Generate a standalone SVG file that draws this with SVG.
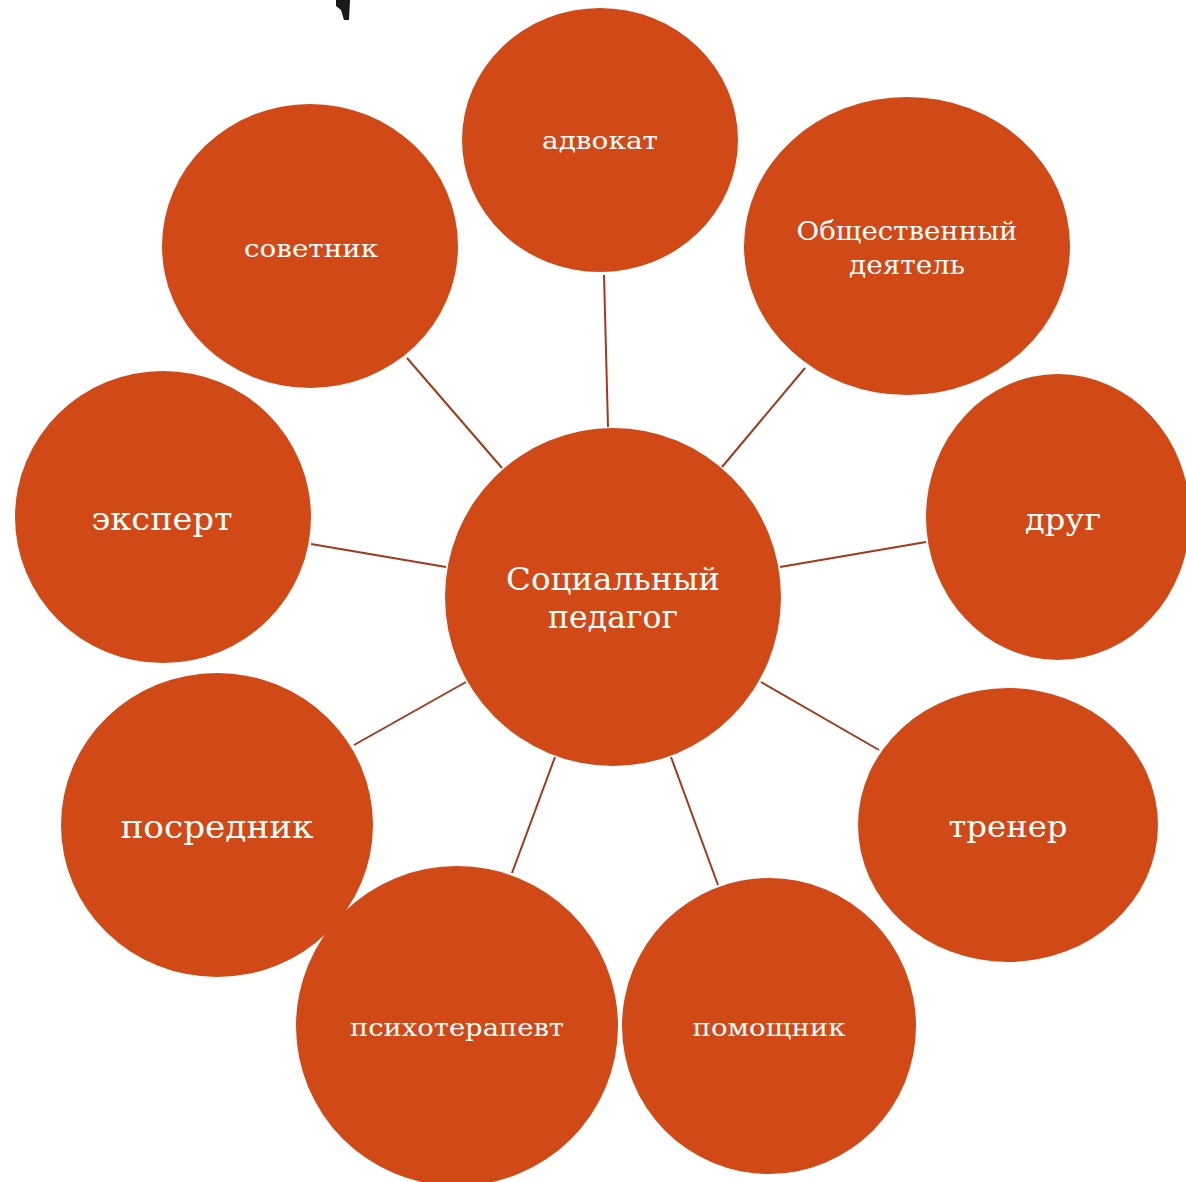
<svg xmlns="http://www.w3.org/2000/svg" width="1186" height="1182" viewBox="0 0 1186 1182">
<style>
.n{fill:#d14917;}
.t{fill:#ffffff;font-family:"DejaVu Serif","Liberation Serif",serif;text-anchor:middle;}
.c line{stroke:#a3391a;stroke-width:2;}
</style>
<rect width="1186" height="1182" fill="#ffffff"/>
<path d="M336 0 L350 0 L349 20 L344 20 L341 10 L336 6 Z" fill="#1a1a1a"/>
<g class="c">
<line x1="604" y1="275" x2="608" y2="427"/>
<line x1="805" y1="368" x2="722" y2="467"/>
<line x1="407" y1="358" x2="502" y2="468"/>
<line x1="926" y1="542" x2="780" y2="567"/>
<line x1="311" y1="544" x2="446" y2="567"/>
<line x1="761" y1="682" x2="879" y2="750"/>
<line x1="354" y1="745" x2="466" y2="682"/>
<line x1="671" y1="757" x2="718" y2="885"/>
<line x1="555" y1="757" x2="512" y2="873"/>
</g>
<g id="center"><ellipse class="n" cx="613" cy="597" rx="168" ry="169"/><text class="t" x="613" y="590" font-size="31" textLength="214" lengthAdjust="spacingAndGlyphs">Социальный</text><text class="t" x="613" y="628" font-size="31" textLength="130" lengthAdjust="spacingAndGlyphs">педагог</text></g>
<g id="advokat"><ellipse class="n" cx="600" cy="140" rx="138" ry="132"/><text class="t" x="600" y="149" font-size="24" textLength="116" lengthAdjust="spacingAndGlyphs">адвокат</text></g>
<g id="obshch"><ellipse class="n" cx="907" cy="246" rx="163" ry="149"/><text class="t" x="907" y="240" font-size="26" textLength="221" lengthAdjust="spacingAndGlyphs">Общественный</text><text class="t" x="907" y="274" font-size="26" textLength="116" lengthAdjust="spacingAndGlyphs">деятель</text></g>
<g id="sovetnik"><ellipse class="n" cx="310" cy="246" rx="148" ry="142"/><text class="t" x="311" y="257" font-size="24" textLength="134" lengthAdjust="spacingAndGlyphs">советник</text></g>
<g id="ekspert"><ellipse class="n" cx="163" cy="517" rx="148" ry="146"/><text class="t" x="162" y="530" font-size="31" textLength="141" lengthAdjust="spacingAndGlyphs">эксперт</text></g>
<g id="drug"><ellipse class="n" cx="1058" cy="517" rx="132" ry="143"/><text class="t" x="1063" y="530" font-size="30" textLength="76" lengthAdjust="spacingAndGlyphs">друг</text></g>
<g id="trener"><ellipse class="n" cx="1008" cy="825" rx="150" ry="137"/><text class="t" x="1008" y="837" font-size="30" textLength="119" lengthAdjust="spacingAndGlyphs">тренер</text></g>
<g id="pomoshchnik"><ellipse class="n" cx="769" cy="1026" rx="147" ry="148"/><text class="t" x="769" y="1036" font-size="24" textLength="153" lengthAdjust="spacingAndGlyphs">помощник</text></g>
<g id="psikho"><ellipse class="n" cx="457" cy="1026" rx="161" ry="160"/><text class="t" x="457" y="1036" font-size="24" textLength="214" lengthAdjust="spacingAndGlyphs">психотерапевт</text></g>
<g id="posrednik"><ellipse class="n" cx="217" cy="825" rx="156" ry="152"/><text class="t" x="217" y="838" font-size="31" textLength="193" lengthAdjust="spacingAndGlyphs">посредник</text></g>
</svg>
